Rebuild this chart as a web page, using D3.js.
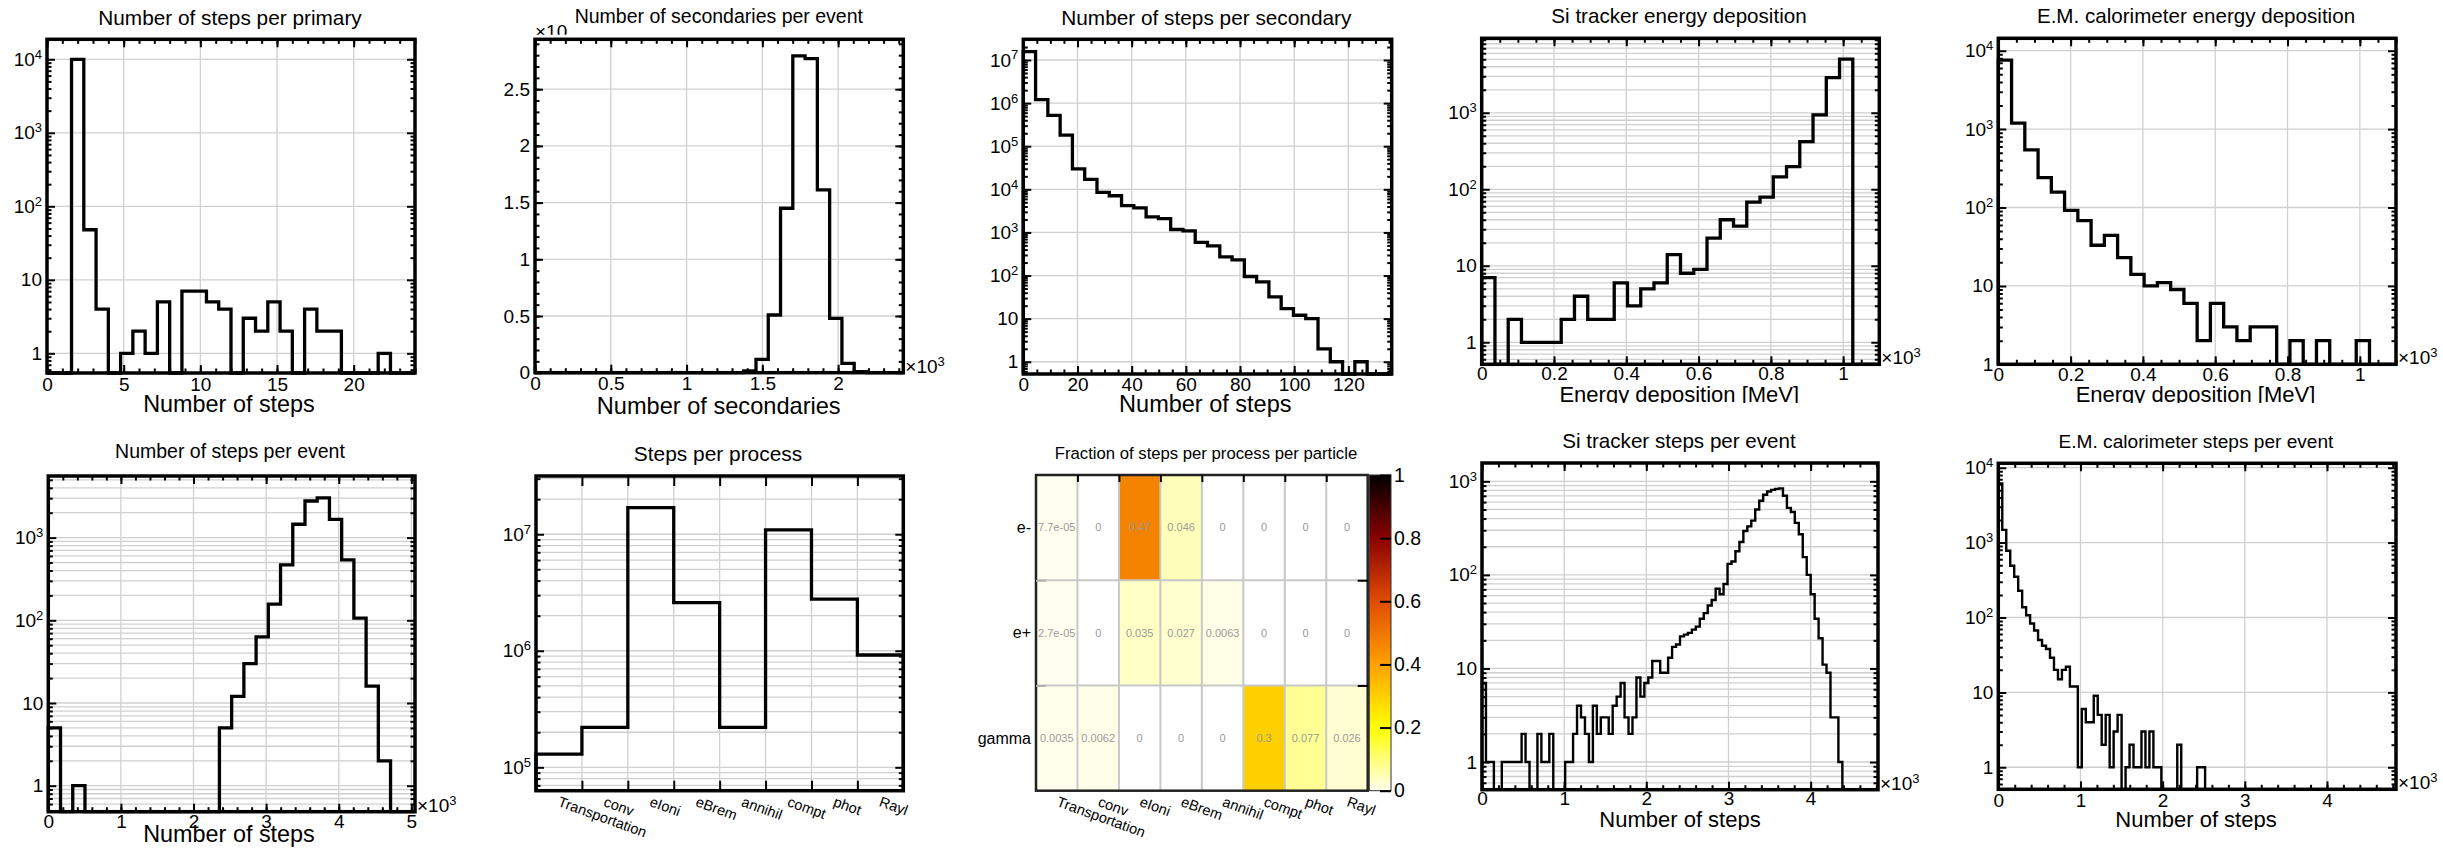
<!DOCTYPE html>
<html>
<head>
<meta charset="utf-8">
<script src="https://d3js.org/d3.v7.min.js"></script>
<style>
  body { margin: 0; background: #fff; }
  svg { display: block; }
  text { font-family: "Liberation Sans", Arial, Helvetica, sans-serif; fill: #000; }
</style>
</head>
<body>
<div id="chart"></div>
<script>
// ---------- values ----------
var stepsPerPrimary = [0, 0, 10000, 48, 4, 0, 1, 2, 1, 5, 0, 7, 7, 5, 4, 0, 3, 2, 5, 2, 0, 4, 2, 2, 0, 0, 0, 1, 0, 0];
var secondariesPerEvent = [0, 0, 0, 0, 0, 0, 0, 0, 0, 0, 0, 0, 0, 0, 0, 0, 0, 15, 118, 509,
  1450, 2794, 2770, 1612, 479, 82, 9, 0, 0, 0];
var stepsPerSecondary = [1.56e7, 1.2e6, 5.2e5, 1.8e5, 2.97e4, 1.7e4, 8500, 7100, 4200, 3700,
  2300, 2100, 1170, 1090, 590, 490, 270, 230, 95, 71, 32, 17, 12, 10, 2, 1, 0, 1, 0, 0];
var trackerEdep = [7, 0, 2, 1, 1, 1, 2, 4, 2, 2, 6, 3, 5, 6, 14, 8, 9, 23, 40, 33,
  68, 79, 145, 198, 420, 940, 2880, 5040, 0, 0];
var caloEdep = [7600, 1190, 545, 240, 157, 92, 68, 33, 44, 23, 14, 10, 11, 9, 6, 2, 6, 3, 2, 3,
  3, 1, 2, 1, 2, 1, 1, 2, 1, 1];
var stepsPerEvent = [5, 0, 1, 0, 0, 0, 0, 0, 0, 0, 0, 0, 0, 0, 5, 12, 30, 63, 157, 467,
  1450, 2770, 3030, 1660, 537, 106, 16, 2, 0, 0];

var processNames = ['Transportation', 'conv', 'eIoni', 'eBrem', 'annihil', 'compt', 'phot', 'Rayl'];
var stepsPerProcess = [1.3e5, 2.2e5, 1.69e7, 2.59e6, 2.2e5, 1.09e7, 2.78e6, 9.2e5];

var particleNames = ['e-', 'e+', 'gamma'];
var fractionEminus = [7.7e-5, 0, 0.47, 0.046, 0, 0, 0, 0];
var fractionEplus = [2.7e-5, 0, 0.035, 0.027, 0.0063, 0, 0, 0];
var fractionGamma = [0.0035, 0.0062, 0, 0, 0, 0.3, 0.077, 0.026];
var colorbarTicks = [0, 0.2, 0.4, 0.6, 0.8, 1];

var trackerStepsPerEvent = [7, 1, 1, 0, 0, 1, 1, 1, 1, 1,
  2, 1, 0, 0, 2, 1, 1, 2, 0, 0,
  0, 1, 1, 2, 4, 3, 2, 1, 4, 2,
  3, 3, 2, 4, 5, 7, 3, 2, 3, 8,
  5, 7, 8, 12, 12, 9, 9, 13, 17, 18,
  22, 23, 24, 26, 28, 34, 39, 47, 54, 71,
  62, 80, 131, 139, 179, 225, 295, 330, 380, 500,
  620, 720, 780, 810, 830, 840, 700, 520, 470, 360,
  272, 155, 100, 62, 34, 21, 11, 9, 3, 3,
  1, 0, 0, 0, 0, 0, 0, 0, 0, 0];
var caloStepsPerEvent = [6170, 1480, 780, 490, 350, 228, 137, 107, 83, 67,
  50, 42, 38, 29, 20, 15, 20, 22, 12, 12,
  1, 6, 4, 4, 9, 5, 2, 5, 1, 3,
  5, 0, 1, 2, 1, 1, 3, 1, 3, 1,
  1, 0, 0, 0, 0, 2, 0, 0, 0, 0,
  1, 1, 0, 0, 0, 0, 0, 0, 0, 0,
  0, 0, 0, 0, 0, 0, 0, 0, 0, 0,
  0, 0, 0, 0, 0, 0, 0, 0, 0, 0,
  0, 0, 0, 0, 0, 0, 0, 0, 0, 0,
  0, 0, 0, 0, 0, 0, 0, 0, 0, 0];

// ---------- layout ----------
var kilo = function (d) { return d / 1000; };
var panels = [
  { values: stepsPerPrimary, title: 'Number of steps per primary', titleX: 230, titleY: 25, titleSize: 20.8,
    xlabel: 'Number of steps', xlabelX: 229, xlabelY: 411.7, xlabelSize: 23.4,
    left: 47, top: 39.3, right: 415, bottom: 373, xPad: 5,
    xDomain: [0, 24], xMajor: [0, 5, 10, 15, 20], xMinor: 1,
    log: true, yDomain: [0.54, 18700] },
  { values: secondariesPerEvent, title: 'Number of secondaries per event', titleX: 718.8, titleY: 23.3, titleSize: 19.5,
    xlabel: 'Number of secondaries', xlabelX: 718.7, xlabelY: 414.3, xlabelSize: 23.6,
    left: 535, top: 39.3, right: 903.3, bottom: 372.7, xPad: 4,
    xDomain: [0, 2430], xMajor: [0, 500, 1000, 1500, 2000], xMinor: 100, xFmt: kilo,
    log: false, yDomain: [0, 2940], yMajor: [0, 500, 1000, 1500, 2000, 2500], yMinor: 100, yFmt: kilo,
    times: true, topTimes: true },
  { values: stepsPerSecondary, title: 'Number of steps per secondary', titleX: 1206.3, titleY: 25, titleSize: 20.8,
    xlabel: 'Number of steps', xlabelX: 1205.3, xlabelY: 411.7, xlabelSize: 23.5,
    left: 1023.3, top: 39.3, right: 1391.7, bottom: 374, xPad: 4,
    xDomain: [0, 136], xMajor: [0, 20, 40, 60, 80, 100, 120], xMinor: 5,
    log: true, yDomain: [0.52, 3.02e7] },
  { values: trackerEdep, title: 'Si tracker energy deposition', titleX: 1679, titleY: 22.7, titleSize: 20.6,
    xlabel: 'Energy deposition [MeV]', xlabelX: 1679.3, xlabelY: 401.7, xlabelSize: 22,
    left: 1481.7, top: 38.3, right: 1879.3, bottom: 364.3, xPad: 2.5,
    xDomain: [0, 1100], xMajor: [0, 200, 400, 600, 800, 1000], xMinor: 50, xFmt: kilo,
    log: true, yDomain: [0.516, 9420], minorGrid: true, times: true, clipY: 403 },
  { values: caloEdep, title: 'E.M. calorimeter energy deposition', titleX: 2196, titleY: 22.7, titleSize: 20.6,
    xlabel: 'Energy deposition [MeV]', xlabelX: 2195.5, xlabelY: 401.7, xlabelSize: 22,
    left: 1998.3, top: 38.3, right: 2396, bottom: 364.3, xPad: 3.5,
    xDomain: [0, 1100], xMajor: [0, 200, 400, 600, 800, 1000], xMinor: 50, xFmt: kilo,
    log: true, yDomain: [1, 14400], times: true, clipY: 403 },
  { values: stepsPerEvent, title: 'Number of steps per event', titleX: 230, titleY: 458.3, titleSize: 19.5,
    xlabel: 'Number of steps', xlabelX: 229, xlabelY: 842, xlabelSize: 23.4,
    left: 48.3, top: 476, right: 415, bottom: 811.7, xPad: 3,
    xDomain: [0, 5050], xMajor: [0, 1000, 2000, 3000, 4000, 5000], xMinor: 200, xFmt: kilo,
    log: true, yDomain: [0.485, 5560], minorGrid: true, times: true },
  { values: trackerStepsPerEvent, title: 'Si tracker steps per event', titleX: 1679, titleY: 448.3, titleSize: 20.6,
    xlabel: 'Number of steps', xlabelX: 1680, xlabelY: 826.7, xlabelSize: 22,
    left: 1482, top: 463, right: 1878, bottom: 789.7, xPad: 2,
    xDomain: [0, 4820], xMajor: [0, 1000, 2000, 3000, 4000], xMinor: 200, xFmt: kilo,
    log: true, yDomain: [0.506, 1570], minorGrid: true, lw: 2.4, times: true, clipY: 830 },
  { values: caloStepsPerEvent, title: 'E.M. calorimeter steps per event', titleX: 2196, titleY: 448.3, titleSize: 19.1,
    xlabel: 'Number of steps', xlabelX: 2196, xlabelY: 826.7, xlabelSize: 22,
    left: 1998.3, top: 463.3, right: 2396, bottom: 789.3, xPad: 4,
    xDomain: [0, 4840], xMajor: [0, 1000, 2000, 3000, 4000], xMinor: 200, xFmt: kilo,
    log: true, yDomain: [0.508, 11450], lw: 2.4, times: true, clipY: 830 }
];

var W = 2443, H = 853;
var gridColor = '#d0d0d0';
var svg = d3.select('#chart').append('svg').attr('width', W).attr('height', H);
var defs = svg.append('defs');
var clipCount = 0;

function clipTo(g, x, y, w, h) {
  var id = 'clip' + (clipCount++);
  defs.append('clipPath').attr('id', id).append('rect')
    .attr('x', x).attr('y', y).attr('width', w).attr('height', h);
  g.attr('clip-path', 'url(#' + id + ')');
}

function logTicks(dom) {
  var lo = Math.floor(Math.log10(dom[0])), hi = Math.ceil(Math.log10(dom[1]));
  var major = [], minor = [];
  for (var e = lo; e <= hi; e++) {
    var p = Math.pow(10, e);
    if (p >= dom[0] * 0.999 && p <= dom[1]) major.push(p);
    for (var k = 2; k < 10; k++) {
      var v = k * p;
      if (v > dom[0] && v < dom[1]) minor.push(v);
    }
  }
  return { major: major, minor: minor };
}

function styleAxis(sel, size) {
  sel.select('.domain').remove();
  sel.attr('font-family', null).attr('font-size', null);
  sel.selectAll('.tick line').attr('stroke', '#000').attr('stroke-width', 2);
  sel.selectAll('.tick text').attr('font-size', size || 19).attr('fill', '#000');
  return sel;
}

function powLabels(sel) {
  sel.selectAll('.tick text').each(function (d) {
    var t = d3.select(this), e = Math.round(Math.log10(d));
    t.text(e === 0 ? '1' : '10');
    if (e > 1) t.append('tspan').attr('dy', '-0.55em').attr('font-size', 13).text(e);
  });
}

function timesTen(g, x, y) {
  var t = g.append('text').attr('x', x).attr('y', y).attr('font-size', 19).text('\u00d710');
  t.append('tspan').attr('dy', '-0.55em').attr('font-size', 13).text('3');
  return t;
}

function drawHist(p) {
  var g = svg.append('g');
  if (p.clipY) clipTo(g, p.left - 90, p.top - 60, p.right - p.left + 140, p.clipY - p.top + 60);

  var x = d3.scaleLinear().domain(p.xDomain).range([p.left, p.right]);
  var y = (p.log ? d3.scaleLog() : d3.scaleLinear()).domain(p.yDomain).range([p.bottom, p.top]);
  var yt = p.log ? logTicks(p.yDomain) : { major: p.yMajor, minor: d3.range(0, p.yDomain[1], p.yMinor) };
  var xMinor = d3.range(p.xDomain[0], p.xDomain[1] + 1e-9, p.xMinor);
  var inX = function (d) { return d > p.xDomain[0] && d < p.xDomain[1]; };
  var inY = function (d) { return d > p.yDomain[0] && d < p.yDomain[1]; };

  // grid
  var grid = g.append('g').attr('stroke', gridColor).attr('stroke-width', 1.3);
  var hy = (p.minorGrid ? yt.major.concat(yt.minor) : yt.major).filter(inY);
  grid.selectAll('line.h').data(hy).enter().append('line').attr('class', 'h')
    .attr('x1', p.left).attr('x2', p.right).attr('y1', y).attr('y2', y);
  grid.selectAll('line.v').data(p.xMajor.filter(inX)).enter().append('line').attr('class', 'v')
    .attr('y1', p.top).attr('y2', p.bottom).attr('x1', x).attr('x2', x);

  // histogram outline
  var n = p.values.length, bw = (p.xDomain[1] - p.xDomain[0]) / n, ymin = p.yDomain[0];
  var pts = [[p.xDomain[0], ymin]];
  p.values.forEach(function (v, i) {
    pts.push([p.xDomain[0] + i * bw, v], [p.xDomain[0] + (i + 1) * bw, v]);
  });
  pts.push([p.xDomain[1], ymin]);
  var line = d3.line()
    .x(function (d) { return x(d[0]); })
    .y(function (d) { return y(Math.max(d[1], ymin)); });
  g.append('path').attr('d', line(pts)).attr('fill', 'none')
    .attr('stroke', '#000').attr('stroke-width', p.lw || 3.3);

  // frame
  g.append('rect').attr('x', p.left).attr('y', p.top)
    .attr('width', p.right - p.left).attr('height', p.bottom - p.top)
    .attr('fill', 'none').attr('stroke', '#000').attr('stroke-width', 3.5);

  // axes (ticks inward on all sides)
  var bot = 'translate(0,' + p.bottom + ')', top = 'translate(0,' + p.top + ')';
  var lft = 'translate(' + p.left + ',0)', rgt = 'translate(' + p.right + ',0)';
  styleAxis(g.append('g').attr('transform', bot)
    .call(d3.axisBottom(x).tickValues(p.xMajor).tickSize(-8).tickPadding(p.xPad)
      .tickFormat(p.xFmt || function (d) { return d; })));
  styleAxis(g.append('g').attr('transform', bot).call(d3.axisBottom(x).tickValues(xMinor).tickSize(-4.5).tickFormat('')));
  styleAxis(g.append('g').attr('transform', top).call(d3.axisTop(x).tickValues(p.xMajor).tickSize(-8).tickFormat('')));
  styleAxis(g.append('g').attr('transform', top).call(d3.axisTop(x).tickValues(xMinor).tickSize(-4.5).tickFormat('')));

  var la = styleAxis(g.append('g').attr('transform', lft)
    .call(d3.axisLeft(y).tickValues(yt.major).tickSize(-8).tickPadding(5)
      .tickFormat(p.log ? function () { return ''; } : p.yFmt)));
  if (p.log) powLabels(la);
  styleAxis(g.append('g').attr('transform', lft).call(d3.axisLeft(y).tickValues(yt.minor).tickSize(-4.5).tickFormat('')));
  styleAxis(g.append('g').attr('transform', rgt).call(d3.axisRight(y).tickValues(yt.major).tickSize(-8).tickFormat('')));
  styleAxis(g.append('g').attr('transform', rgt).call(d3.axisRight(y).tickValues(yt.minor).tickSize(-4.5).tickFormat('')));

  // texts
  g.append('text').attr('x', p.titleX).attr('y', p.titleY).attr('text-anchor', 'middle')
    .attr('font-size', p.titleSize).text(p.title);
  g.append('text').attr('x', p.xlabelX).attr('y', p.xlabelY).attr('text-anchor', 'middle')
    .attr('font-size', p.xlabelSize).text(p.xlabel);
  if (p.times) timesTen(g, p.right + 2, p.bottom);
  if (p.topTimes) {
    var tg = svg.append('g');
    clipTo(tg, p.left - 10, p.top - 30, 120, 25.5);
    tg.append('text').attr('x', p.left).attr('y', p.top - 1).attr('font-size', 19).text('\u00d710');
  }
}

panels.forEach(drawHist);

// ---------- steps per process ----------
(function () {
  var L = 536, R = 903.3, T = 476, B = 790.7;
  var g = svg.append('g');
  var xb = d3.scaleBand().domain(processNames).range([L, R]);
  var xi = d3.scaleLinear().domain([0, processNames.length]).range([L, R]);
  var y = d3.scaleLog().domain([6.3e4, 3.16e7]).range([B, T]);
  var yt = logTicks(y.domain());
  var ymin = y.domain()[0];

  var grid = g.append('g').attr('stroke', gridColor).attr('stroke-width', 1.3);
  grid.selectAll('line.h').data(yt.major.concat(yt.minor)).enter().append('line').attr('class', 'h')
    .attr('x1', L).attr('x2', R).attr('y1', y).attr('y2', y);
  grid.selectAll('line.v').data(d3.range(1, processNames.length)).enter().append('line').attr('class', 'v')
    .attr('y1', T).attr('y2', B).attr('x1', xi).attr('x2', xi);

  var pts = [[0, ymin]];
  stepsPerProcess.forEach(function (v, i) { pts.push([i, v], [i + 1, v]); });
  pts.push([processNames.length, ymin]);
  g.append('path')
    .attr('d', d3.line().x(function (d) { return xi(d[0]); }).y(function (d) { return y(d[1]); })(pts))
    .attr('fill', 'none').attr('stroke', '#000').attr('stroke-width', 3.3);

  g.append('rect').attr('x', L).attr('y', T).attr('width', R - L).attr('height', B - T)
    .attr('fill', 'none').attr('stroke', '#000').attr('stroke-width', 3.5);

  var bounds = d3.range(1, processNames.length);
  styleAxis(g.append('g').attr('transform', 'translate(0,' + B + ')').call(d3.axisBottom(xi).tickValues(bounds).tickSize(-10).tickFormat('')));
  styleAxis(g.append('g').attr('transform', 'translate(0,' + T + ')').call(d3.axisTop(xi).tickValues(bounds).tickSize(-10).tickFormat('')));
  var la = styleAxis(g.append('g').attr('transform', 'translate(' + L + ',0)')
    .call(d3.axisLeft(y).tickValues(yt.major).tickSize(-8).tickPadding(5).tickFormat(function () { return ''; })));
  powLabels(la);
  styleAxis(g.append('g').attr('transform', 'translate(' + L + ',0)').call(d3.axisLeft(y).tickValues(yt.minor).tickSize(-4.5).tickFormat('')));
  styleAxis(g.append('g').attr('transform', 'translate(' + R + ',0)').call(d3.axisRight(y).tickValues(yt.major).tickSize(-8).tickFormat('')));
  styleAxis(g.append('g').attr('transform', 'translate(' + R + ',0)').call(d3.axisRight(y).tickValues(yt.minor).tickSize(-4.5).tickFormat('')));

  g.selectAll('text.cat').data(processNames).enter().append('text').attr('class', 'cat')
    .attr('transform', function (d) { return 'translate(' + (xb(d) + xb.bandwidth() / 2 - 2) + ',' + (B + 15) + ') rotate(20)'; })
    .attr('font-size', 14.5).text(function (d) { return d; });

  g.append('text').attr('x', 718).attr('y', 460.7).attr('text-anchor', 'middle')
    .attr('font-size', 20.9).text('Steps per process');
})();

// ---------- fraction of steps per process per particle ----------
(function () {
  var L = 1036, R = 1367.7, T = 475, B = 790.7;
  var g = svg.append('g');
  var xb = d3.scaleBand().domain(processNames).range([L, R]);
  var yb = d3.scaleBand().domain(particleNames).range([T, B]);
  var xi = d3.scaleLinear().domain([0, processNames.length]).range([L, R]);
  var yi = d3.scaleLinear().domain([0, particleNames.length]).range([T, B]);
  var color = d3.scaleLinear().domain(colorbarTicks)
    .range(['#fffff0', '#ffff00', '#ffa000', '#e04c00', '#8b0000', '#000000']);

  var rows = [fractionEminus, fractionEplus, fractionGamma];
  var cells = [];
  rows.forEach(function (r, j) {
    r.forEach(function (v, i) { cells.push({ p: processNames[i], q: particleNames[j], v: v }); });
  });

  g.selectAll('rect.cell').data(cells.filter(function (c) { return c.v > 0; })).enter().append('rect')
    .attr('class', 'cell')
    .attr('x', function (c) { return xb(c.p); }).attr('y', function (c) { return yb(c.q); })
    .attr('width', xb.bandwidth()).attr('height', yb.bandwidth())
    .attr('fill', function (c) { return color(c.v); });

  var grid = g.append('g').attr('stroke', '#c8c8c8').attr('stroke-width', 2);
  grid.selectAll('line.v').data(d3.range(1, processNames.length)).enter().append('line').attr('class', 'v')
    .attr('x1', xi).attr('x2', xi).attr('y1', T).attr('y2', B);
  grid.selectAll('line.h').data(d3.range(1, particleNames.length)).enter().append('line').attr('class', 'h')
    .attr('y1', yi).attr('y2', yi).attr('x1', L).attr('x2', R);

  g.append('rect').attr('x', L).attr('y', T).attr('width', R - L).attr('height', B - T)
    .attr('fill', 'none').attr('stroke', '#222').attr('stroke-width', 2.5);

  styleAxis(g.append('g').attr('transform', 'translate(0,' + T + ')')
    .call(d3.axisTop(xi).tickValues(d3.range(1, processNames.length)).tickSize(-7).tickFormat('')));
  styleAxis(g.append('g').attr('transform', 'translate(' + R + ',0)')
    .call(d3.axisRight(yi).tickValues([1, 2]).tickSize(-10).tickFormat('')));
  var lt = styleAxis(g.append('g').attr('transform', 'translate(' + L + ',0)')
    .call(d3.axisLeft(yi).tickValues([1, 2]).tickSize(-10).tickFormat('')));
  lt.selectAll('.tick line').attr('stroke', '#b0b0b0');

  var fmt = function (v) {
    if (v === 0) return '0';
    if (v < 1e-3) return v.toExponential(1).replace(/e-(\d)$/, 'e-0$1');
    return String(+v.toPrecision(2));
  };
  g.selectAll('text.val').data(cells).enter().append('text').attr('class', 'val')
    .attr('x', function (c) { return xb(c.p) + xb.bandwidth() / 2; })
    .attr('y', function (c) { return yb(c.q) + yb.bandwidth() / 2; })
    .attr('dy', '0.35em').attr('text-anchor', 'middle').attr('font-size', 11)
    .style('fill', '#9a9a9a').text(function (c) { return fmt(c.v); });

  g.selectAll('text.row').data(particleNames).enter().append('text').attr('class', 'row')
    .attr('x', L - 5).attr('y', function (d) { return yb(d) + yb.bandwidth() / 2; })
    .attr('dy', '0.35em').attr('text-anchor', 'end').attr('font-size', 16).text(function (d) { return d; });

  g.selectAll('text.cat').data(processNames).enter().append('text').attr('class', 'cat')
    .attr('transform', function (d) { return 'translate(' + (xb(d) + xb.bandwidth() / 2 - 1) + ',' + (B + 15) + ') rotate(20)'; })
    .attr('font-size', 14.5).text(function (d) { return d; });

  // colour bar
  var cbL = 1369.3, cbR = 1391;
  var grad = defs.append('linearGradient').attr('id', 'cbar').attr('x1', 0).attr('y1', 1).attr('x2', 0).attr('y2', 0);
  grad.selectAll('stop').data(d3.range(0, 1.0001, 0.05)).enter().append('stop')
    .attr('offset', function (d) { return d; }).attr('stop-color', function (d) { return color(d); });
  g.append('rect').attr('x', cbL).attr('y', T).attr('width', cbR - cbL).attr('height', B - T)
    .attr('fill', 'url(#cbar)').attr('stroke', '#333').attr('stroke-width', 1);
  var c = d3.scaleLinear().domain([0, 1]).range([B, T]);
  styleAxis(g.append('g').attr('transform', 'translate(' + cbR + ',0)')
    .call(d3.axisRight(c).tickValues(colorbarTicks).tickSize(-11).tickPadding(3).tickFormat(d3.format('~g'))), 19.5);

  g.append('text').attr('x', 1206).attr('y', 459.3).attr('text-anchor', 'middle')
    .attr('font-size', 16.7).text('Fraction of steps per process per particle');
})();
</script>
</body>
</html>
